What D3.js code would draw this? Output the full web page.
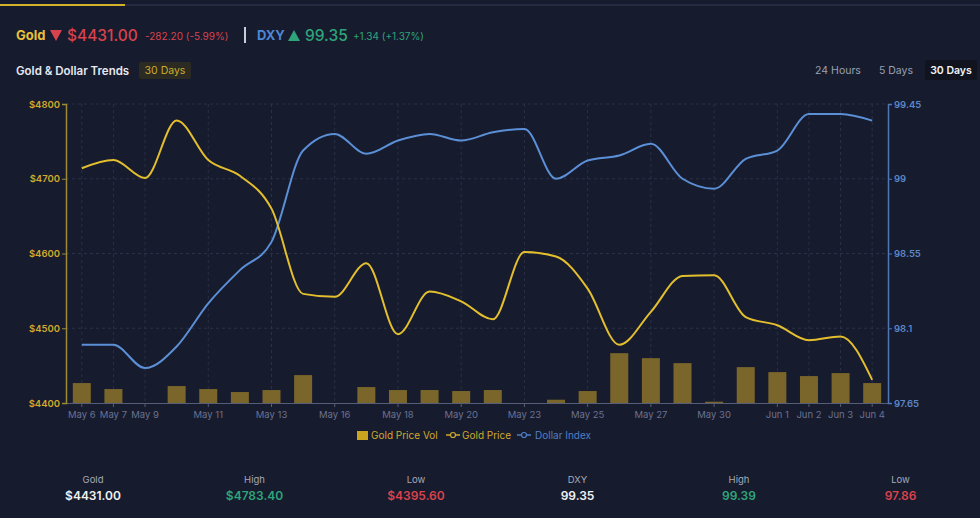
<!DOCTYPE html>
<html>
<head>
<meta charset="utf-8">
<script src="https://cdn.jsdelivr.net/npm/d3@7"></script>
<style>
  html, body { margin: 0; padding: 0; background: #171b2e; }
  svg { display: block; font-family: Inter, "Liberation Sans", sans-serif; }
</style>
</head>
<body>
<div id="chart"></div>
<script>
// chart data
var dates = ["May 6", "May 7", "May 9", "May 10", "May 11", "May 12", "May 13", "May 14",
    "May 16", "May 17", "May 18", "May 19", "May 20", "May 21", "May 23", "May 24",
    "May 25", "May 26", "May 27", "May 28", "May 30", "May 31", "Jun 1", "Jun 2", "Jun 3", "Jun 4"];
var goldPrice = [4714, 4725, 4701, 4778, 4725, 4704, 4660, 4546, 4542, 4587, 4492, 4549,
    4536, 4512, 4602, 4596, 4553, 4478, 4522, 4570, 4571, 4515, 4504, 4484, 4489, 4431];
var dollarIndex = [98.00, 98.00, 97.86, 97.99, 98.25, 98.45, 98.62, 99.17, 99.27, 99.15,
    99.23, 99.27, 99.23, 99.28, 99.30, 99.00, 99.11, 99.14, 99.21, 99.00, 98.94, 99.12,
    99.17, 99.39, 99.39, 99.35];
var goldVol = [20, 14, 0, 17, 14, 11, 13, 28, 0, 16, 13, 13, 12, 13, 0, 3.3, 12, 50, 45,
    40, 1.3, 36, 31, 27, 30, 20];
var shownTicks = ["May 6", "May 7", "May 9", "May 11", "May 13", "May 16", "May 18", "May 20",
    "May 23", "May 25", "May 27", "May 30", "Jun 1", "Jun 2", "Jun 3", "Jun 4"];
var goldTicks = [4400, 4500, 4600, 4700, 4800];
var dxyTicks = [97.65, 98.1, 98.55, 99, 99.45];
var statLabels = ["Gold", "High", "Low", "DXY", "High", "Low"];
var statValues = ["$4431.00", "$4783.40", "$4395.60", "99.35", "99.39", "97.86"];

var svgWidth = 980;
var svgHeight = 518;

var gold = "#e3bf2e";
var goldText = "#cfaa2c";
var blue = "#5b8fd6";
var red = "#d9434d";
var green = "#2ea57a";

var svg = d3.select("#chart")
    .append("svg")
    .attr("width", svgWidth)
    .attr("height", svgHeight);

svg.append("rect").attr("width", svgWidth).attr("height", svgHeight).attr("fill", "#171b2e");

// top tab rule
svg.append("rect").attr("x", 0).attr("y", 4).attr("width", svgWidth).attr("height", 2).attr("fill", "#262b41");
svg.append("rect").attr("x", 0).attr("y", 4).attr("width", 125).attr("height", 2).attr("fill", "#d4b12a");

// header quote line
var head = svg.append("g");
head.append("text").attr("x", 16).attr("y", 40).attr("fill", "#e8c13a")
    .attr("font-size", 13).attr("font-weight", 700).text("Gold");
head.append("path").attr("d", "M50,30 L62,30 L56,41 Z").attr("fill", red);
head.append("text").attr("x", 67).attr("y", 41).attr("fill", red)
    .attr("font-size", 15.5).attr("font-weight", 500).text("$4431.00");
head.append("text").attr("x", 145).attr("y", 40).attr("fill", red)
    .attr("font-size", 10).text("-282.20 (-5.99%)");
head.append("rect").attr("x", 244).attr("y", 27).attr("width", 2).attr("height", 16).attr("fill", "#c9cdd8");
head.append("text").attr("x", 257).attr("y", 40).attr("fill", "#4d86d6")
    .attr("font-size", 13).attr("font-weight", 700).text("DXY");
head.append("path").attr("d", "M288,41 L300,41 L294,30 Z").attr("fill", green);
head.append("text").attr("x", 305).attr("y", 41).attr("fill", green)
    .attr("font-size", 15.5).attr("font-weight", 500).text("99.35");
head.append("text").attr("x", 353).attr("y", 40).attr("fill", green)
    .attr("font-size", 10).text("+1.34 (+1.37%)");

// title and range buttons
svg.append("text").attr("x", 16).attr("y", 75).attr("fill", "#e6e8ee")
    .attr("font-size", 11.5).attr("font-weight", 600).text("Gold & Dollar Trends");
svg.append("rect").attr("x", 139).attr("y", 62).attr("width", 52).attr("height", 17)
    .attr("rx", 2).attr("fill", "#2b2a23");
svg.append("text").attr("x", 165).attr("y", 74).attr("text-anchor", "middle")
    .attr("fill", goldText).attr("font-size", 10.5).text("30 Days");

svg.append("text").attr("x", 838).attr("y", 74).attr("text-anchor", "middle")
    .attr("fill", "#9aa0b1").attr("font-size", 10.5).text("24 Hours");
svg.append("text").attr("x", 896).attr("y", 74).attr("text-anchor", "middle")
    .attr("fill", "#9aa0b1").attr("font-size", 10.5).text("5 Days");
svg.append("rect").attr("x", 925).attr("y", 60).attr("width", 52).attr("height", 20)
    .attr("rx", 2).attr("fill", "#11141f");
svg.append("text").attr("x", 951).attr("y", 74).attr("text-anchor", "middle")
    .attr("fill", "#f2f3f6").attr("font-size", 10.5).attr("font-weight", 600).text("30 Days");

// scales
var xScale = d3.scaleBand().domain(dates).range([66, 888]);
var xc = d => xScale(d) + xScale.bandwidth() / 2;

var yGold = d3.scaleLinear().domain([4400, 4800]).range([403, 104]);
var yDxy = d3.scaleLinear().domain([97.65, 99.45]).range([403, 104]);
var yVol = d3.scaleLinear().domain([0, 300]).range([403, 104]);

// grid
var grid = svg.append("g").attr("stroke", "#2a3047").attr("stroke-dasharray", "3,3");
grid.selectAll("line.h").data(goldTicks.slice(1)).enter().append("line")
    .attr("x1", 66).attr("x2", 888)
    .attr("y1", d => yGold(d)).attr("y2", d => yGold(d));
grid.selectAll("line.v").data(shownTicks).enter().append("line")
    .attr("x1", d => xc(d)).attr("x2", d => xc(d))
    .attr("y1", 104).attr("y2", 403);

// volume bars
svg.append("g").selectAll("rect")
    .data(dates)
    .enter()
    .append("rect")
    .attr("x", d => xc(d) - 9)
    .attr("width", 18)
    .attr("y", (d, i) => yVol(goldVol[i]))
    .attr("height", (d, i) => 403 - yVol(goldVol[i]))
    .attr("fill", "#7a662a");

// axes
var bottomAxis = d3.axisBottom(xScale).tickValues(shownTicks).tickSize(4).tickPadding(4).tickSizeOuter(0);
var gx = svg.append("g").attr("transform", "translate(0,403)").call(bottomAxis);
gx.select(".domain").attr("stroke", "#565d78");
gx.selectAll(".tick line").attr("stroke", "#565d78");
gx.selectAll(".tick text").attr("fill", "#6b7290").attr("font-size", 9.5)
    .attr("font-family", "Inter, sans-serif");

var leftAxis = d3.axisLeft(yGold).tickValues(goldTicks).tickSize(4).tickPadding(2)
    .tickSizeOuter(4).tickFormat(d => "$" + d);
var gl = svg.append("g").attr("transform", "translate(66,0)").call(leftAxis);
gl.select(".domain").attr("stroke", "#9c8a34").attr("stroke-width", 1.5);
gl.selectAll(".tick line").attr("stroke", "#9c8a34");
gl.selectAll(".tick text").attr("fill", goldText).attr("font-size", 9.5).attr("font-weight", 600)
    .attr("font-family", "Inter, sans-serif");

var rightAxis = d3.axisRight(yDxy).tickValues(dxyTicks).tickSize(4).tickPadding(2)
    .tickSizeOuter(4).tickFormat(d => String(+d.toFixed(2)));
var gr = svg.append("g").attr("transform", "translate(888,0)").call(rightAxis);
gr.select(".domain").attr("stroke", "#4e77b4").attr("stroke-width", 1.5);
gr.selectAll(".tick line").attr("stroke", "#4e77b4");
gr.selectAll(".tick text").attr("fill", "#5b87c8").attr("font-size", 9.5).attr("font-weight", 600)
    .attr("font-family", "Inter, sans-serif");

// lines
var goldLine = d3.line()
    .x((d, i) => xc(dates[i]))
    .y(d => yGold(d))
    .curve(d3.curveMonotoneX);
var dxyLine = d3.line()
    .x((d, i) => xc(dates[i]))
    .y(d => yDxy(d))
    .curve(d3.curveMonotoneX);

svg.append("path").datum(dollarIndex).attr("d", dxyLine)
    .attr("fill", "none").attr("stroke", blue).attr("stroke-width", 2);
svg.append("path").datum(goldPrice).attr("d", goldLine)
    .attr("fill", "none").attr("stroke", gold).attr("stroke-width", 2);

// legend
var lg = svg.append("g").attr("font-size", 10).attr("font-family", "Inter, sans-serif");
lg.append("rect").attr("x", 357).attr("y", 431).attr("width", 11).attr("height", 9).attr("fill", "#c9a41f");
lg.append("text").attr("x", 371).attr("y", 439).attr("fill", goldText).text("Gold Price Vol");
lg.append("line").attr("x1", 446).attr("x2", 460).attr("y1", 435).attr("y2", 435)
    .attr("stroke", goldText).attr("stroke-width", 1.5);
lg.append("circle").attr("cx", 453).attr("cy", 435).attr("r", 2.5)
    .attr("fill", "#171b2e").attr("stroke", goldText).attr("stroke-width", 1.2);
lg.append("text").attr("x", 462).attr("y", 439).attr("fill", goldText).text("Gold Price");
lg.append("line").attr("x1", 517).attr("x2", 531).attr("y1", 435).attr("y2", 435)
    .attr("stroke", "#4f7fc4").attr("stroke-width", 1.5);
lg.append("circle").attr("cx", 524).attr("cy", 435).attr("r", 2.5)
    .attr("fill", "#171b2e").attr("stroke", "#4f7fc4").attr("stroke-width", 1.2);
lg.append("text").attr("x", 535).attr("y", 439).attr("fill", "#4f7fc4").text("Dollar Index");

// bottom stats
var statColors = ["#f0f1f4", green, red, "#f0f1f4", green, red];
var stats = svg.append("g").attr("text-anchor", "middle").attr("font-family", "Inter, sans-serif");
stats.selectAll("text.lab").data(statLabels).enter().append("text")
    .attr("x", (d, i) => 93 + i * 161.5).attr("y", 483)
    .attr("fill", "#a5aab8").attr("font-size", 9.5).text(d => d);
stats.selectAll("text.val").data(statValues).enter().append("text")
    .attr("x", (d, i) => 93 + i * 161.5).attr("y", 500)
    .attr("fill", (d, i) => statColors[i]).attr("font-size", 12).attr("font-weight", 600)
    .text(d => d);
</script>
</body>
</html>
